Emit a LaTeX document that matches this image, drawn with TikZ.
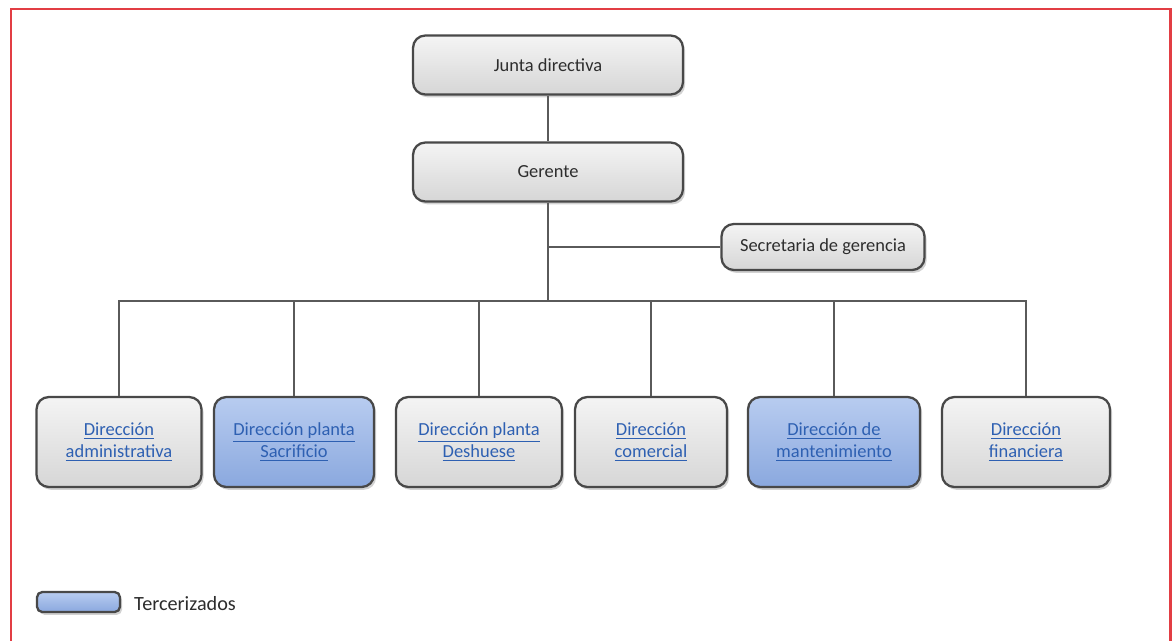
\documentclass[tikz,border=0pt]{standalone}
\usepackage{fontspec}
\setmainfont{Carlito}
\usepackage{xcolor}
\usetikzlibrary{shadows}

\definecolor{marco}{RGB}{226,62,68}
\definecolor{enlace}{RGB}{46,96,178}
\definecolor{texto}{RGB}{45,45,45}
\definecolor{borde}{RGB}{72,72,72}
\definecolor{linea}{RGB}{90,90,90}
\definecolor{grisA}{RGB}{244,244,244}
\definecolor{grisB}{RGB}{214,214,214}
\definecolor{azulA}{RGB}{184,204,240}
\definecolor{azulB}{RGB}{138,168,222}

\newcommand{\enl}[1]{\textcolor{enlace}{\underline{#1}}}

\tikzset{
  caja/.style={draw=borde, line width=1.3pt, rounded corners=7pt,
    top color=grisA, bottom color=grisB, text=texto, align=center,
    font=\fontsize{10.5}{12.5}\selectfont, inner sep=0pt,
    drop shadow={opacity=0.35, shadow xshift=1.2pt, shadow yshift=-1.6pt}},
  cargo/.style={caja, minimum width=5.4cm, minimum height=1.18cm},
  area/.style={caja, minimum height=1.8cm},
  tercero/.style={area, top color=azulA, bottom color=azulB},
  rama/.style={draw=linea, line width=0.8pt}
}

\begin{document}
\begin{tikzpicture}[x=0.02cm, y=-0.02cm]
\clip (0,0) rectangle (1173,640);
\fill[white] (0,0) rectangle (1173,640);
\draw[marco, line width=1.7pt] (11,9) rectangle (1170,680);

\node[cargo] (junta) at (548,65) {Junta directiva};
\node[cargo] (gerente) at (548,172) {Gerente};
\node[caja, minimum width=4.06cm, minimum height=0.92cm] (secre) at (823,247) {Secretaria de gerencia};
\coordinate (bus) at (548,301);

\node[area, minimum width=3.3cm] (admin) at (119,442) {\enl{Dirección}\\\enl{administrativa}};
\node[tercero, minimum width=3.2cm] (sacri) at (294,442) {\enl{Dirección planta}\\\enl{Sacrificio}};
\node[area, minimum width=3.32cm] (deshu) at (479,442) {\enl{Dirección planta}\\\enl{Deshuese}};
\node[area, minimum width=3.04cm] (comer) at (651,442) {\enl{Dirección}\\\enl{comercial}};
\node[tercero, minimum width=3.44cm] (mante) at (834,442) {\enl{Dirección de}\\\enl{mantenimiento}};
\node[area, minimum width=3.36cm] (finan) at (1026,442) {\enl{Dirección}\\\enl{financiera}};

\draw[rama] (junta) -- (gerente);
\draw[rama] (gerente) -- (bus);
\draw[rama] (secre.west) -- (secre.west -| gerente.south);
\foreach \d in {admin,sacri,deshu,comer,mante,finan}
  \draw[rama] (\d.north) |- (bus);

\node[caja, top color=azulA, bottom color=azulB, rounded corners=3pt,
  minimum width=1.66cm, minimum height=0.4cm] (muestra) at (78.5,602) {};
\node[anchor=west, text=texto, font=\fontsize{11.5}{13}\selectfont] (leyenda) at (128,604) {Tercerizados};
\end{tikzpicture}
\end{document}
